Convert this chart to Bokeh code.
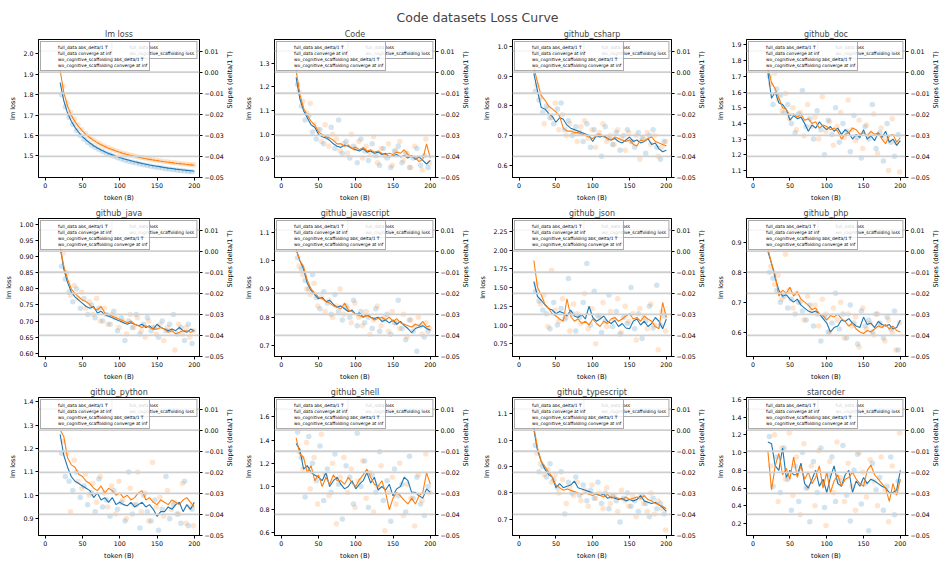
import math
from bokeh.plotting import figure
from bokeh.models import Range1d, LinearAxis, FixedTicker, Span, Legend, LegendItem, Label
from bokeh.layouts import gridplot, column
from bokeh.embed import file_html
from bokeh.resources import INLINE

# ---------------- data ----------------
LINE_X = list(range(20, 201, 5))          # token (B) for the loss lines
FULL_PTS_X = list(range(22, 198, 5))      # token (B) for full_data loss points
WO_PTS_X = list(range(24, 200, 5))        # token (B) for wo_cognitive_scaffolding points
X_TICKS = [0, 50, 100, 150, 200]
SLOPE_TICKS = [0.01, 0.0, -0.01, -0.02, -0.03, -0.04, -0.05]
SLOPE_LABELS = ["0.01", "0.00", "\u22120.01", "\u22120.02", "\u22120.03", "\u22120.04", "\u22120.05"]

lm_full = [1.86, 1.77, 1.71, 1.67, 1.64, 1.615, 1.595, 1.578, 1.563, 1.550, 1.539, 1.529, 1.520, 1.512, 1.505, 1.498, 1.492, 1.486, 1.481, 1.476, 1.471, 1.467, 1.463, 1.459, 1.455, 1.452, 1.449, 1.446, 1.443, 1.440, 1.438, 1.435, 1.433, 1.431, 1.429, 1.427, 1.425]
lm_wo = [1.92, 1.81, 1.745, 1.70, 1.668, 1.643, 1.622, 1.604, 1.589, 1.576, 1.565, 1.555, 1.546, 1.538, 1.531, 1.524, 1.518, 1.512, 1.507, 1.502, 1.498, 1.494, 1.490, 1.486, 1.483, 1.480, 1.477, 1.474, 1.471, 1.469, 1.467, 1.464, 1.462, 1.460, 1.458, 1.456, 1.454]
lm_full_pts = [1.80, 1.74, 1.69, 1.655, 1.625, 1.600, 1.582, 1.566, 1.552, 1.541, 1.531, 1.521, 1.513, 1.505, 1.498, 1.491, 1.485, 1.479, 1.474, 1.469, 1.465, 1.460, 1.457, 1.453, 1.449, 1.446, 1.443, 1.440, 1.437, 1.435, 1.432, 1.430, 1.428, 1.426, 1.424, 1.422]
lm_wo_pts = [1.84, 1.76, 1.715, 1.68, 1.652, 1.630, 1.610, 1.594, 1.580, 1.568, 1.558, 1.549, 1.541, 1.534, 1.527, 1.520, 1.514, 1.509, 1.504, 1.500, 1.496, 1.492, 1.488, 1.485, 1.482, 1.479, 1.476, 1.473, 1.471, 1.468, 1.466, 1.464, 1.462, 1.460, 1.458, 1.456]

code_full = [1.24, 1.15, 1.10, 1.07, 1.04, 1.03, 1.00, 0.99, 0.985, 0.975, 0.96, 0.95, 0.945, 0.955, 0.95, 0.94, 0.935, 0.93, 0.94, 0.925, 0.93, 0.92, 0.925, 0.915, 0.92, 0.905, 0.91, 0.915, 0.905, 0.91, 0.90, 0.91, 0.895, 0.905, 0.89, 0.875, 0.89]
code_wo = [1.27, 1.17, 1.11, 1.08, 1.055, 1.04, 1.01, 1.00, 0.99, 0.985, 0.975, 0.96, 0.96, 0.95, 0.955, 0.94, 0.945, 0.935, 0.945, 0.93, 0.935, 0.925, 0.93, 0.92, 0.915, 0.92, 0.915, 0.925, 0.92, 0.935, 0.915, 0.905, 0.90, 0.885, 0.895, 0.96, 0.90]
code_full_pts = [1.21, 1.12, 1.06, 1.08, 1.01, 0.98, 1.02, 0.96, 0.99, 1.03, 0.94, 1.06, 0.92, 0.97, 0.90, 0.95, 0.88, 0.98, 0.93, 0.89, 0.96, 0.91, 0.87, 0.94, 0.90, 0.86, 0.93, 0.95, 0.88, 0.92, 0.86, 0.90, 0.94, 0.87, 0.91, 0.86]
code_wo_pts = [1.18, 1.14, 1.09, 1.13, 1.04, 1.02, 0.97, 1.04, 0.95, 1.00, 0.98, 0.93, 0.96, 0.92, 1.00, 0.94, 0.97, 0.90, 0.95, 0.92, 0.99, 0.88, 0.94, 0.91, 0.96, 0.87, 0.93, 0.97, 0.89, 0.92, 0.86, 0.95, 0.90, 0.85, 0.98, 0.88]

csharp_full = [0.91, 0.85, 0.795, 0.79, 0.775, 0.765, 0.745, 0.76, 0.755, 0.735, 0.725, 0.72, 0.715, 0.71, 0.705, 0.70, 0.68, 0.70, 0.695, 0.70, 0.69, 0.685, 0.69, 0.68, 0.675, 0.685, 0.695, 0.68, 0.685, 0.675, 0.68, 0.69, 0.67, 0.675, 0.655, 0.645, 0.65]
csharp_wo = [0.93, 0.88, 0.835, 0.82, 0.80, 0.79, 0.78, 0.765, 0.725, 0.715, 0.715, 0.71, 0.71, 0.705, 0.70, 0.695, 0.69, 0.70, 0.705, 0.695, 0.69, 0.685, 0.695, 0.69, 0.685, 0.68, 0.685, 0.67, 0.665, 0.685, 0.68, 0.69, 0.695, 0.68, 0.675, 0.67, 0.665]
csharp_full_pts = [0.85, 0.82, 0.78, 0.80, 0.76, 0.74, 0.79, 0.81, 0.72, 0.75, 0.70, 0.73, 0.71, 0.68, 0.74, 0.66, 0.72, 0.70, 0.63, 0.73, 0.69, 0.67, 0.71, 0.65, 0.70, 0.72, 0.68, 0.66, 0.71, 0.69, 0.64, 0.70, 0.72, 0.66, 0.62, 0.68]
csharp_wo_pts = [0.87, 0.83, 0.74, 0.79, 0.76, 0.81, 0.72, 0.77, 0.70, 0.74, 0.71, 0.68, 0.73, 0.75, 0.69, 0.72, 0.66, 0.71, 0.74, 0.68, 0.70, 0.67, 0.72, 0.69, 0.65, 0.71, 0.68, 0.70, 0.62, 0.69, 0.71, 0.67, 0.70, 0.63, 0.66, 0.68]

doc_full = [1.73, 1.56, 1.60, 1.53, 1.52, 1.49, 1.42, 1.45, 1.43, 1.44, 1.40, 1.35, 1.39, 1.37, 1.41, 1.38, 1.36, 1.38, 1.35, 1.37, 1.33, 1.36, 1.34, 1.30, 1.33, 1.31, 1.36, 1.30, 1.32, 1.29, 1.34, 1.31, 1.35, 1.28, 1.30, 1.26, 1.29]
doc_wo = [1.75, 1.66, 1.62, 1.56, 1.50, 1.49, 1.45, 1.46, 1.44, 1.46, 1.42, 1.43, 1.40, 1.41, 1.37, 1.39, 1.38, 1.36, 1.37, 1.35, 1.30, 1.33, 1.34, 1.37, 1.36, 1.33, 1.34, 1.32, 1.35, 1.33, 1.34, 1.30, 1.27, 1.32, 1.33, 1.28, 1.31]
doc_full_pts = [1.70, 1.52, 1.62, 1.58, 1.47, 1.52, 1.40, 1.34, 1.46, 1.61, 1.38, 1.43, 1.30, 1.48, 1.36, 1.20, 1.42, 1.33, 1.50, 1.28, 1.40, 1.35, 1.22, 1.45, 1.31, 1.18, 1.38, 1.30, 1.52, 1.24, 1.34, 1.16, 1.40, 1.28, 1.19, 1.33]
doc_wo_pts = [1.65, 1.72, 1.55, 1.48, 1.59, 1.43, 1.50, 1.36, 1.47, 1.32, 1.52, 1.38, 1.44, 1.30, 1.57, 1.35, 1.41, 1.26, 1.38, 1.47, 1.31, 1.55, 1.36, 1.29, 1.42, 1.24, 1.39, 1.33, 1.46, 1.21, 1.37, 1.30, 1.10, 1.43, 1.28, 1.09]

java_full = [0.93, 0.86, 0.82, 0.79, 0.775, 0.765, 0.755, 0.745, 0.74, 0.745, 0.725, 0.73, 0.72, 0.715, 0.71, 0.705, 0.70, 0.695, 0.69, 0.695, 0.69, 0.685, 0.69, 0.68, 0.685, 0.675, 0.69, 0.68, 0.675, 0.67, 0.675, 0.67, 0.68, 0.67, 0.665, 0.675, 0.67]
java_wo = [0.93, 0.87, 0.83, 0.80, 0.785, 0.775, 0.765, 0.76, 0.75, 0.74, 0.735, 0.745, 0.725, 0.72, 0.715, 0.71, 0.705, 0.70, 0.695, 0.70, 0.69, 0.685, 0.68, 0.685, 0.68, 0.675, 0.675, 0.68, 0.675, 0.665, 0.67, 0.66, 0.665, 0.67, 0.67, 0.665, 0.67]
java_full_pts = [0.87, 0.83, 0.79, 0.76, 0.80, 0.74, 0.77, 0.72, 0.75, 0.71, 0.74, 0.70, 0.72, 0.69, 0.73, 0.67, 0.71, 0.64, 0.70, 0.68, 0.72, 0.66, 0.69, 0.71, 0.67, 0.68, 0.65, 0.70, 0.67, 0.69, 0.72, 0.66, 0.68, 0.64, 0.69, 0.63]
java_wo_pts = [0.91, 0.85, 0.78, 0.81, 0.77, 0.79, 0.74, 0.76, 0.72, 0.77, 0.70, 0.74, 0.69, 0.72, 0.71, 0.68, 0.70, 0.66, 0.72, 0.68, 0.71, 0.67, 0.65, 0.70, 0.68, 0.66, 0.69, 0.64, 0.68, 0.67, 0.61, 0.69, 0.66, 0.68, 0.65, 0.67]

js_full = [1.04, 1.00, 0.97, 0.92, 0.895, 0.88, 0.865, 0.87, 0.855, 0.86, 0.845, 0.835, 0.84, 0.83, 0.82, 0.825, 0.81, 0.815, 0.80, 0.81, 0.80, 0.795, 0.80, 0.785, 0.79, 0.78, 0.79, 0.775, 0.785, 0.77, 0.76, 0.745, 0.76, 0.765, 0.77, 0.76, 0.755]
js_wo = [1.04, 1.00, 0.98, 0.93, 0.90, 0.885, 0.87, 0.865, 0.855, 0.85, 0.84, 0.835, 0.83, 0.85, 0.825, 0.82, 0.81, 0.805, 0.80, 0.805, 0.80, 0.79, 0.795, 0.80, 0.79, 0.80, 0.785, 0.795, 0.78, 0.775, 0.77, 0.765, 0.775, 0.77, 0.785, 0.765, 0.77]
js_full_pts = [1.01, 0.97, 0.93, 0.90, 0.95, 0.87, 0.83, 0.89, 0.85, 0.81, 0.88, 0.82, 0.79, 0.84, 0.80, 0.86, 0.77, 0.82, 0.78, 0.80, 0.76, 0.83, 0.75, 0.79, 0.81, 0.74, 0.78, 0.86, 0.76, 0.72, 0.79, 0.75, 0.68, 0.77, 0.73, 0.75]
js_wo_pts = [0.98, 0.95, 0.90, 0.88, 0.92, 0.84, 0.87, 0.82, 0.86, 0.80, 0.84, 0.90, 0.81, 0.83, 0.78, 0.85, 0.80, 0.77, 0.82, 0.74, 0.79, 0.84, 0.77, 0.80, 0.75, 0.82, 0.78, 0.76, 0.81, 0.73, 0.79, 0.77, 0.80, 0.74, 0.78, 0.76]

json_full = [1.58, 1.38, 1.33, 1.27, 1.22, 1.20, 1.15, 1.18, 1.16, 1.12, 1.20, 1.12, 1.10, 1.14, 1.08, 1.25, 1.10, 1.05, 1.08, 1.12, 1.05, 1.02, 1.06, 0.98, 1.02, 0.96, 0.95, 1.05, 1.08, 1.00, 1.05, 0.98, 1.02, 1.10, 1.05, 0.95, 1.08]
json_wo = [1.86, 1.50, 1.40, 1.28, 1.22, 1.15, 1.12, 1.08, 1.05, 1.35, 1.12, 1.05, 1.08, 1.02, 1.05, 1.00, 1.08, 1.02, 0.98, 1.05, 1.02, 1.08, 1.10, 1.05, 1.08, 1.12, 1.15, 1.08, 1.10, 1.05, 1.12, 1.08, 1.05, 0.98, 0.95, 1.30, 1.10]
json_full_pts = [1.45, 1.32, 1.20, 1.15, 0.95, 1.30, 1.00, 1.22, 1.08, 1.62, 1.15, 0.92, 1.10, 1.30, 1.82, 1.00, 1.45, 1.12, 0.90, 1.05, 1.40, 0.98, 1.18, 0.88, 1.10, 1.02, 1.50, 0.95, 1.15, 0.82, 1.05, 1.25, 0.96, 1.53, 1.00, 1.12]
json_wo_pts = [1.55, 1.28, 1.40, 0.98, 1.73, 1.20, 1.05, 1.35, 1.10, 0.92, 1.28, 1.15, 1.02, 1.42, 0.95, 1.22, 0.75, 1.12, 1.30, 0.98, 1.18, 1.08, 1.35, 0.90, 1.25, 1.05, 1.15, 0.80, 1.22, 1.10, 0.95, 1.28, 1.00, 0.67, 1.18, 0.92]

php_full = [0.87, 0.83, 0.78, 0.74, 0.72, 0.725, 0.71, 0.70, 0.71, 0.69, 0.68, 0.67, 0.665, 0.67, 0.66, 0.645, 0.63, 0.60, 0.615, 0.62, 0.64, 0.635, 0.645, 0.63, 0.62, 0.615, 0.65, 0.625, 0.63, 0.615, 0.635, 0.625, 0.62, 0.625, 0.61, 0.615, 0.64]
php_wo = [0.88, 0.83, 0.79, 0.72, 0.74, 0.73, 0.75, 0.72, 0.735, 0.71, 0.70, 0.69, 0.675, 0.68, 0.66, 0.655, 0.64, 0.655, 0.65, 0.66, 0.645, 0.635, 0.62, 0.63, 0.61, 0.60, 0.595, 0.605, 0.60, 0.61, 0.62, 0.615, 0.625, 0.61, 0.62, 0.605, 0.60]
php_full_pts = [0.80, 0.78, 0.74, 0.70, 0.72, 0.68, 0.71, 0.66, 0.70, 0.67, 0.64, 0.69, 0.62, 0.66, 0.57, 0.65, 0.60, 0.63, 0.73, 0.61, 0.66, 0.58, 0.69, 0.63, 0.56, 0.67, 0.62, 0.64, 0.60, 0.66, 0.63, 0.58, 0.65, 0.61, 0.67, 0.54]
php_wo_pts = [0.82, 0.76, 0.79, 0.71, 0.86, 0.74, 0.68, 0.73, 0.70, 0.64, 0.72, 0.67, 0.69, 0.62, 0.71, 0.66, 0.60, 0.68, 0.64, 0.70, 0.58, 0.66, 0.62, 0.65, 0.55, 0.68, 0.61, 0.63, 0.59, 0.66, 0.62, 0.57, 0.64, 0.60, 0.54, 0.63]

py_full = [1.26, 1.17, 1.12, 1.08, 1.06, 1.05, 1.04, 1.03, 1.02, 0.99, 1.01, 0.98, 0.99, 0.97, 0.99, 0.96, 0.97, 0.96, 0.955, 0.97, 0.95, 0.96, 0.97, 0.95, 0.96, 0.94, 0.91, 0.93, 0.93, 0.95, 0.94, 0.96, 0.97, 0.93, 0.96, 0.94, 0.97]
py_wo = [1.28, 1.25, 1.16, 1.13, 1.12, 1.09, 1.08, 1.06, 1.05, 1.03, 1.02, 1.04, 1.01, 1.03, 1.02, 1.00, 1.01, 0.99, 1.00, 0.98, 0.99, 1.01, 1.02, 0.98, 0.99, 0.97, 0.96, 0.98, 0.97, 0.96, 0.98, 0.97, 0.96, 0.98, 0.99, 0.97, 0.95]
py_full_pts = [1.18, 1.08, 1.06, 1.02, 1.10, 0.99, 1.04, 0.96, 1.01, 0.93, 1.07, 0.95, 0.98, 0.91, 1.02, 0.94, 0.97, 0.89, 1.10, 0.92, 0.96, 0.86, 1.00, 0.93, 0.89, 0.98, 0.85, 0.94, 1.08, 0.90, 0.96, 0.92, 0.88, 1.06, 0.87, 0.94]
py_wo_pts = [1.23, 1.18, 0.93, 1.15, 1.06, 1.03, 1.09, 1.00, 1.05, 0.97, 1.08, 1.01, 0.95, 1.04, 0.92, 1.06, 0.98, 0.90, 1.03, 0.96, 1.10, 0.93, 1.01, 0.89, 1.14, 0.95, 0.99, 0.91, 1.02, 0.94, 0.97, 0.92, 1.05, 0.88, 0.95, 0.87]

shell_full = [1.37, 1.32, 1.15, 1.18, 1.12, 1.10, 1.08, 1.05, 1.12, 1.00, 1.05, 1.08, 1.02, 0.98, 1.00, 1.05, 0.98, 1.02, 1.05, 1.12, 1.03, 1.08, 0.97, 1.00, 0.97, 1.02, 0.92, 0.98, 1.00, 1.08, 1.05, 0.95, 0.95, 0.92, 0.90, 0.98, 0.95]
shell_wo = [1.42, 1.28, 1.25, 1.12, 1.18, 1.05, 1.10, 1.00, 1.08, 1.02, 1.10, 1.05, 1.05, 1.02, 1.08, 1.03, 1.00, 1.06, 1.10, 1.15, 1.08, 1.02, 1.00, 1.05, 0.95, 0.80, 0.90, 0.95, 0.92, 0.88, 0.85, 0.90, 0.85, 0.92, 0.95, 1.12, 1.02]
shell_full_pts = [1.47, 1.25, 0.91, 1.43, 1.20, 1.05, 1.35, 0.88, 1.15, 0.95, 1.28, 1.02, 0.72, 1.18, 1.08, 0.85, 1.46, 1.00, 1.22, 0.82, 1.10, 0.95, 1.30, 0.88, 1.05, 0.70, 1.15, 0.92, 1.02, 0.78, 1.26, 0.90, 1.08, 0.85, 0.75, 1.00]
shell_wo_pts = [1.30, 1.15, 1.38, 0.98, 1.25, 0.85, 1.45, 1.10, 0.92, 1.20, 0.68, 1.08, 1.25, 0.95, 1.15, 0.82, 1.05, 1.22, 0.90, 1.12, 0.78, 1.00, 1.18, 0.62, 0.95, 1.08, 0.85, 1.20, 0.75, 1.02, 0.90, 0.66, 1.10, 0.88, 1.28, 0.95]

ts_full = [1.04, 0.96, 0.92, 0.89, 0.87, 0.86, 0.82, 0.835, 0.82, 0.825, 0.83, 0.845, 0.82, 0.815, 0.81, 0.805, 0.80, 0.795, 0.79, 0.795, 0.78, 0.785, 0.78, 0.775, 0.78, 0.77, 0.775, 0.77, 0.775, 0.79, 0.77, 0.765, 0.76, 0.765, 0.755, 0.745, 0.73]
ts_wo = [1.05, 0.97, 0.92, 0.90, 0.88, 0.86, 0.83, 0.82, 0.81, 0.815, 0.81, 0.805, 0.80, 0.795, 0.80, 0.795, 0.79, 0.80, 0.79, 0.785, 0.795, 0.78, 0.785, 0.78, 0.775, 0.785, 0.775, 0.78, 0.785, 0.78, 0.79, 0.775, 0.77, 0.76, 0.755, 0.75, 0.74]
ts_full_pts = [0.98, 0.88, 0.90, 0.86, 0.91, 0.85, 0.82, 0.88, 0.72, 0.84, 0.80, 0.86, 0.79, 0.83, 0.77, 0.81, 0.78, 0.84, 0.76, 0.80, 0.74, 0.79, 0.77, 0.69, 0.78, 0.80, 0.75, 0.77, 0.73, 0.79, 0.76, 0.71, 0.78, 0.74, 0.76, 0.72]
ts_wo_pts = [0.95, 0.91, 0.87, 0.89, 0.84, 0.87, 0.80, 0.85, 0.76, 0.82, 0.79, 0.84, 0.77, 0.81, 0.75, 0.83, 0.78, 0.80, 0.74, 0.82, 0.76, 0.79, 0.73, 0.81, 0.77, 0.75, 0.79, 0.71, 0.78, 0.76, 0.73, 0.80, 0.72, 0.77, 0.74, 0.66]

star_full = [1.12, 1.10, 0.85, 0.80, 1.05, 0.72, 0.80, 0.75, 0.75, 0.88, 0.65, 0.60, 0.70, 0.80, 0.62, 0.70, 0.55, 0.72, 0.85, 0.65, 0.62, 0.75, 0.80, 0.55, 0.68, 0.62, 0.72, 0.65, 0.70, 0.68, 0.65, 0.62, 0.60, 0.55, 0.55, 0.58, 0.80]
star_wo = [1.02, 0.58, 0.85, 0.99, 0.75, 0.82, 0.70, 0.95, 0.72, 0.85, 0.70, 0.78, 0.65, 0.72, 0.85, 0.60, 0.78, 0.55, 0.68, 0.75, 0.62, 0.70, 0.72, 0.78, 0.70, 0.65, 0.62, 0.80, 0.86, 0.75, 0.70, 0.65, 0.60, 0.45, 0.65, 0.52, 0.70]
star_full_pts = [1.18, 0.62, 0.95, 0.55, 1.05, 0.70, 0.35, 0.85, 0.45, 1.00, 0.60, 0.22, 0.90, 0.55, 1.05, 0.38, 0.75, 0.95, 0.45, 0.68, 1.08, 0.52, 0.23, 0.80, 0.98, 0.42, 0.65, 0.12, 0.88, 0.58, 0.72, 0.35, 0.62, 0.95, 0.30, 0.68]
star_wo_pts = [0.85, 1.20, 0.45, 1.05, 0.70, 1.22, 0.52, 0.95, 0.30, 1.10, 0.60, 0.85, 0.40, 1.02, 0.65, 0.18, 0.90, 0.55, 1.12, 0.72, 0.45, 0.88, 0.62, 0.35, 1.00, 0.78, 0.50, 0.92, 0.68, 0.40, 0.95, 0.58, 0.22, 0.85, 0.55, 1.22]

TITLES = ["lm loss", "Code", "github_csharp", "github_doc",
          "github_java", "github_javascript", "github_json", "github_php",
          "github_python", "github_shell", "github_typescript", "starcoder"]
Y_LIMITS = [(1.394, 2.071), (0.818, 1.40), (0.558, 1.025), (1.055, 1.935),
            (0.59, 1.018), (0.661, 1.149), (0.58, 2.42), (0.518, 0.98),
            (0.828, 1.418), (0.578, 1.767), (0.639, 1.161), (0.066, 1.62)]
Y_TICKS = [[1.5, 1.6, 1.7, 1.8, 1.9, 2.0], [0.9, 1.0, 1.1, 1.2, 1.3], [0.6, 0.7, 0.8, 0.9, 1.0],
           [1.1, 1.2, 1.3, 1.4, 1.5, 1.6, 1.7, 1.8, 1.9],
           [0.60, 0.65, 0.70, 0.75, 0.80, 0.85, 0.90, 0.95, 1.00], [0.7, 0.8, 0.9, 1.0, 1.1],
           [0.75, 1.00, 1.25, 1.50, 1.75, 2.00, 2.25], [0.6, 0.7, 0.8, 0.9],
           [0.9, 1.0, 1.1, 1.2, 1.3, 1.4], [0.6, 0.8, 1.0, 1.2, 1.4, 1.6], [0.7, 0.8, 0.9, 1.0, 1.1],
           [0.2, 0.4, 0.6, 0.8, 1.0, 1.2, 1.4, 1.6]]
Y_DECIMALS = [1, 1, 1, 1, 2, 1, 2, 1, 1, 1, 1, 1]
FULL_LINES = [lm_full, code_full, csharp_full, doc_full, java_full, js_full, json_full, php_full, py_full, shell_full, ts_full, star_full]
WO_LINES = [lm_wo, code_wo, csharp_wo, doc_wo, java_wo, js_wo, json_wo, php_wo, py_wo, shell_wo, ts_wo, star_wo]
FULL_POINTS = [lm_full_pts, code_full_pts, csharp_full_pts, doc_full_pts, java_full_pts, js_full_pts, json_full_pts, php_full_pts, py_full_pts, shell_full_pts, ts_full_pts, star_full_pts]
WO_POINTS = [lm_wo_pts, code_wo_pts, csharp_wo_pts, doc_wo_pts, java_wo_pts, js_wo_pts, json_wo_pts, php_wo_pts, py_wo_pts, shell_wo_pts, ts_wo_pts, star_wo_pts]

# ---------------- style ----------------
BLUE = "#1f77b4"
ORANGE = "#ff7f0e"
FONT = "DejaVu Sans"
COL_WIDTHS = [240, 236, 236, 234]
COL_LEFT = [38, 34, 34, 34]
COL_RIGHT = [35, 35, 35, 33]
HEAD_H = 25
ROW_H = 179


def style_axis(ax):
    ax.major_label_text_font = FONT
    ax.major_label_text_font_size = "6.3px"
    ax.major_label_text_color = "black"
    ax.axis_label_text_font = FONT
    ax.axis_label_text_font_size = "6.5px"
    ax.axis_label_text_font_style = "normal"
    ax.axis_label_text_color = "black"
    ax.major_tick_out = 3
    ax.major_tick_in = 0
    ax.minor_tick_out = 0
    ax.minor_tick_in = 0
    ax.major_label_standoff = 2
    ax.axis_label_standoff = 3
    ax.axis_line_color = "black"
    ax.major_tick_line_color = "black"


def style_legend(leg):
    leg.label_text_font = FONT
    leg.label_text_font_size = "4.4px"
    leg.label_text_color = "black"
    leg.label_height = 6
    leg.glyph_height = 6
    leg.glyph_width = 12
    leg.label_standoff = 3
    leg.spacing = 0
    leg.padding = 2
    leg.margin = 2
    leg.border_line_color = "#555555"
    leg.border_line_width = 0.6
    leg.background_fill_alpha = 0.8


def make_panel(i):
    c = i % 4
    p = figure(width=COL_WIDTHS[c], height=ROW_H, x_range=Range1d(-9, 207), y_range=Range1d(*Y_LIMITS[i]),
               output_backend="svg", toolbar_location=None, title=TITLES[i],
               min_border_left=COL_LEFT[c], min_border_right=COL_RIGHT[c],
               min_border_top=14, min_border_bottom=23)
    p.extra_y_ranges = {"slope": Range1d(-0.05, 0.0155)}
    p.title.text_font = FONT
    p.title.text_font_size = "8px"
    p.title.text_font_style = "normal"
    p.title.align = "center"
    p.title.standoff = 2
    p.outline_line_color = "black"
    p.outline_line_alpha = 1
    p.outline_line_width = 1
    p.xgrid.visible = False
    p.ygrid.visible = False

    p.xaxis.ticker = FixedTicker(ticks=X_TICKS)
    p.xaxis.axis_label = "token (B)"
    p.yaxis.ticker = FixedTicker(ticks=Y_TICKS[i])
    d = Y_DECIMALS[i]
    p.yaxis.major_label_overrides = {t: f"{t:.{d}f}" for t in Y_TICKS[i]}
    p.yaxis.axis_label = "lm loss"
    right = LinearAxis(y_range_name="slope", ticker=FixedTicker(ticks=SLOPE_TICKS),
                       axis_label="Slopes (delta/1 T)")
    right.major_label_overrides = dict(zip(SLOPE_TICKS, SLOPE_LABELS))
    right.axis_label_orientation = math.pi / 2
    p.add_layout(right, "right")
    for ax in [p.xaxis[0], p.yaxis[0], right]:
        style_axis(ax)

    # loss points and lines
    p.scatter(FULL_PTS_X, FULL_POINTS[i], size=5.5, fill_color=BLUE, fill_alpha=0.2, line_alpha=0)
    p.scatter(WO_PTS_X, WO_POINTS[i], size=5.5, fill_color=ORANGE, fill_alpha=0.2, line_alpha=0)
    p.line(LINE_X, FULL_LINES[i], line_color=BLUE, line_width=1.1)
    p.line(LINE_X, WO_LINES[i], line_color=ORANGE, line_width=1.1)

    # gridlines of the slope axis
    for v in SLOPE_TICKS[:-1]:
        p.add_layout(Span(location=v, dimension="width", y_range_name="slope",
                          line_color="#cfcfcf", line_width=1.8))

    # legend proxies (slope series carry no points in this chart)
    r_fl = p.line([], [], line_color=BLUE, line_alpha=0.25, line_width=1)
    r_wl = p.line([], [], line_color=ORANGE, line_alpha=0.25, line_width=1)
    r_fa = p.line([], [], line_color=BLUE, line_width=1.1, y_range_name="slope")
    r_fc = p.line([], [], line_color=BLUE, line_width=3, y_range_name="slope")
    r_wa = p.line([], [], line_color=ORANGE, line_width=1.1, y_range_name="slope")
    r_wc = p.line([], [], line_color=ORANGE, line_width=3, y_range_name="slope")

    leg_loss = Legend(items=[LegendItem(label="full_data loss", renderers=[r_fl]),
                             LegendItem(label="wo_cognitive_scaffolding loss", renderers=[r_wl])],
                      location="top_right")
    leg_slope = Legend(items=[LegendItem(label="full_data abs_delta/1 T", renderers=[r_fa]),
                              LegendItem(label="full_data converge at inf", renderers=[r_fc]),
                              LegendItem(label="wo_cognitive_scaffolding abs_delta/1 T", renderers=[r_wa]),
                              LegendItem(label="wo_cognitive_scaffolding converge at inf", renderers=[r_wc])],
                       location="top_left")
    style_legend(leg_loss)
    style_legend(leg_slope)
    p.add_layout(leg_loss)
    p.add_layout(leg_slope)
    return p


panels = [make_panel(i) for i in range(12)]

TOTAL_W = sum(COL_WIDTHS)
head = figure(width=TOTAL_W, height=HEAD_H, x_range=Range1d(0, TOTAL_W), y_range=Range1d(0, HEAD_H),
              output_backend="svg", toolbar_location=None,
              x_axis_location=None, y_axis_location=None, min_border=0)
head.outline_line_color = None
head.grid.visible = False
head.background_fill_color = None
head.border_fill_color = None
head.add_layout(Label(x=477, y=HEAD_H - 17, text="Code datasets Loss Curve", text_align="center",
                      text_baseline="middle", text_font=FONT, text_font_size="12.5px"))

grid = gridplot(panels, ncols=4, toolbar_location=None)
layout = column(head, grid)

open("out.html", "w").write(file_html(layout, INLINE))
